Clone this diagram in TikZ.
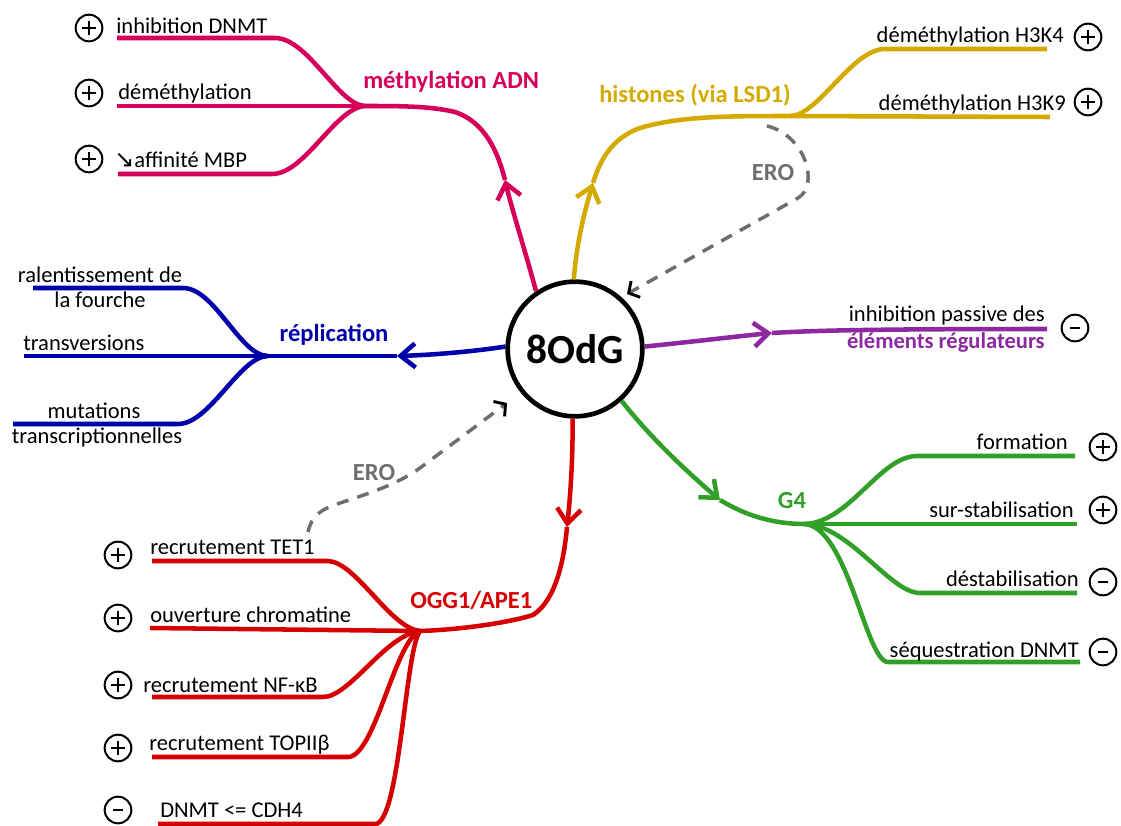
\documentclass[tikz,border=0pt]{standalone}
\usepackage{fontspec}
\setmainfont{Carlito}
\newfontfamily\djv{DejaVu Sans}
\usetikzlibrary{arrows.meta}
\definecolor{meth}{RGB}{214,0,90}
\definecolor{hist}{RGB}{212,170,0}
\definecolor{repl}{RGB}{0,0,170}
\definecolor{purp}{RGB}{140,40,160}
\definecolor{grn}{RGB}{50,160,40}
\definecolor{rred}{RGB}{215,0,0}
\definecolor{erog}{RGB}{110,110,110}
\tikzset{
  branch/.style={line width=3.4pt},
  arr/.style={-{Straight Barb[length=11pt,width=18pt]}},
  txt/.style={inner sep=0pt,font=\fontsize{16.9}{20}\selectfont},
  lbl/.style={inner sep=0pt,font=\fontsize{18.4}{22}\selectfont\bfseries},
  hub/.style={circle,draw=black,line width=3.5pt,minimum size=101pt,inner sep=0pt,font=\fontsize{31}{31}\selectfont\bfseries},
  erol/.style={draw=erog,line width=2.6pt,dash pattern=on 9pt off 7pt,-{Straight Barb[length=6pt,width=14pt,black,line width=2.2pt]}},
  pmc/.style={circle,draw=black,line width=1.5pt,minimum size=20pt,inner sep=0pt},
  pplus/.style={pmc,path picture={
    \draw[line width=1.6pt] ([xshift=-5.5pt]path picture bounding box.center) -- ([xshift=5.5pt]path picture bounding box.center);
    \draw[line width=1.6pt] ([yshift=-5.5pt]path picture bounding box.center) -- ([yshift=5.5pt]path picture bounding box.center);}},
  pminus/.style={pmc,path picture={
    \draw[line width=2pt] ([xshift=-3.5pt]path picture bounding box.center) -- ([xshift=3.5pt]path picture bounding box.center);}}
}
\begin{document}
\begin{tikzpicture}[x=0.75pt,y=-0.75pt]
\useasboundingbox[fill=white] (0,0) rectangle (1121,825);

\node[hub] (c) at (575,349) {8OdG};

% ---------------- methylation ADN
\coordinate (mA) at (505,180);
\coordinate (mJ) at (365,106);
\coordinate (m1) at (117,38);
\coordinate (m2) at (117,106);
\coordinate (m3) at (118,174);
\draw[branch,meth,arr] (c.124) .. controls (525,250) and (512,210) .. (mA);
\draw[branch,meth] (mA) .. controls (498,152) and (485,122) .. (455,112) .. controls (430,106) and (400,106) .. (mJ);
\draw[branch,meth] (m1) -- (275,38) .. controls (308,38) and (338,105) .. (mJ);
\draw[branch,meth] (m2) -- (mJ);
\draw[branch,meth] (m3) -- (272,174) .. controls (305,174) and (335,108) .. (mJ);
\node[lbl,text=meth,anchor=base west] (lm) at (363,88) {méthylation ADN};
\node[txt,anchor=base west] (tm1) at (116,33) {inhibition DNMT};
\node[txt,anchor=base west] (tm2) at (118,99) {déméthylation};
\node[txt,anchor=base west] (tm3) at (114,167) {{\djv\fontsize{18}{18}\selectfont ↘}affinité MBP};
\node[pplus] (sm1) at (89,28) {};
\node[pplus] (sm2) at (89,93) {};
\node[pplus] (sm3) at (89,159) {};

% ---------------- histones
\coordinate (hA) at (593,183);
\coordinate (hJ) at (790,116);
\coordinate (h1) at (1047,49);
\coordinate (h2) at (1050,117);
\draw[branch,hist,arr] (c.91) .. controls (577,240) and (585,210) .. (hA);
\draw[branch,hist] (hA) .. controls (600,160) and (612,138) .. (640,128) .. controls (680,116) and (730,116) .. (hJ);
\draw[branch,hist] (hJ) .. controls (818,116) and (852,49) .. (885,49) -- (h1);
\draw[branch,hist] (hJ) -- (h2);
\node[lbl,text=hist,anchor=base west] (lh) at (599,102) {histones (via LSD1)};
\node[txt,anchor=base east] (th1) at (1064,42) {déméthylation H3K4};
\node[txt,anchor=base east] (th2) at (1066,110) {déméthylation H3K9};
\node[pplus] (sh1) at (1088,37) {};
\node[pplus] (sh2) at (1088,102) {};

% ERO (top)
\coordinate (e1s) at (767,126);
\coordinate (e1t) at (627,294);
\draw[erol] (e1s) .. controls (805,135) and (820,185) .. (798,198) -- (e1t);
\node[lbl,text=erog,anchor=base] (le1) at (773,180) {ERO};

% ---------------- purple
\coordinate (pA) at (772,333);
\coordinate (pE) at (1047,329);
\draw[branch,purp,arr] (c.2) .. controls (690,342) and (740,336) .. (pA);
\draw[branch,purp] (pA) .. controls (820,330) and (900,329) .. (pE);
\node[txt,anchor=base east] (tp1) at (1045,321) {inhibition passive des};
\node[txt,anchor=base east,text=purp,font=\fontsize{16.9}{20}\selectfont\bfseries] (tp2) at (1045,348) {éléments régulateurs};
\node[pminus] (sp) at (1075,328) {};

% ---------------- G4
\coordinate (gA) at (720,500);
\coordinate (gJ) at (805,524);
\coordinate (g1) at (1075,456);
\coordinate (g2) at (1077,524);
\coordinate (g3) at (1077,593);
\coordinate (g4) at (1080,662);
\draw[branch,grn,arr] (c.-48) .. controls (652,440) and (693,477) .. (gA);
\draw[branch,grn] (gA) .. controls (745,515) and (772,524) .. (gJ);
\draw[branch,grn] (gJ) .. controls (850,522) and (880,456) .. (917,456) -- (g1);
\draw[branch,grn] (gJ) -- (g2);
\draw[branch,grn] (gJ) .. controls (850,526) and (890,593) .. (920,593) -- (g3);
\draw[branch,grn] (gJ) .. controls (848,528) and (866,662) .. (888,662) -- (g4);
\node[lbl,text=grn,anchor=base] (lg) at (792,508) {G4};
\node[txt,anchor=base east] (tg1) at (1068,449) {formation};
\node[txt,anchor=base east] (tg2) at (1074,517) {sur-stabilisation};
\node[txt,anchor=base east] (tg3) at (1079,586) {déstabilisation};
\node[txt,anchor=base east] (tg4) at (1079,657) {séquestration DNMT};
\node[pplus] (sg1) at (1103,447) {};
\node[pplus] (sg2) at (1103,510) {};
\node[pminus] (sg3) at (1103,582) {};
\node[pminus] (sg4) at (1103,652) {};

% ---------------- OGG1/APE1
\coordinate (rA) at (567,527);
\coordinate (rJ) at (420,631);
\coordinate (r1) at (152,561);
\coordinate (r2) at (150,628);
\coordinate (r3) at (152,697);
\coordinate (r4) at (152,757);
\coordinate (r5) at (158,824);
\draw[branch,rred,arr] (c.-92) .. controls (573,460) and (570,500) .. (rA);
\draw[branch,rred] (rA) .. controls (564,560) and (556,600) .. (533,615) .. controls (500,625) and (450,630) .. (rJ);
\draw[branch,rred] (r1) -- (328,561) .. controls (356,562) and (390,628) .. (rJ);
\draw[branch,rred] (r2) -- (rJ);
\draw[branch,rred] (r3) -- (323,697) .. controls (350,697) and (385,635) .. (rJ);
\draw[branch,rred] (r4) -- (348,757) .. controls (375,757) and (395,640) .. (rJ);
\draw[branch,rred] (r5) -- (375,824) .. controls (400,824) and (405,650) .. (rJ);
\node[lbl,text=rred,anchor=base west] (lr) at (410,608) {OGG1/APE1};
\node[txt,anchor=base west] (tr1) at (150,554) {recrutement TET1};
\node[txt,anchor=base west] (tr2) at (150,622) {ouverture chromatine};
\node[txt,anchor=base west] (tr3) at (143,692) {recrutement NF-κB};
\node[txt,anchor=base west] (tr4) at (149,750) {recrutement TOPIIβ};
\node[txt,anchor=base west] (tr5) at (160,817) {DNMT <= CDH4};
\node[pplus] (sr1) at (118,555) {};
\node[pplus] (sr2) at (118,618) {};
\node[pplus] (sr3) at (118,685) {};
\node[pplus] (sr4) at (118,748) {};
\node[pminus] (sr5) at (118,810) {};

% ERO (bottom)
\coordinate (e2s) at (308,532);
\coordinate (e2t) at (507,403);
\draw[erol] (e2s) .. controls (312,515) and (320,510) .. (340,503) .. controls (380,490) and (400,482) .. (420,468) -- (e2t);
\node[lbl,text=erog,anchor=base] (le2) at (374,480) {ERO};

% ---------------- réplication
\coordinate (bA) at (397,356);
\coordinate (bJ) at (268,356);
\coordinate (b1) at (33,288);
\coordinate (b2) at (24,356);
\coordinate (b3) at (13,424);
\draw[branch,repl,arr] (c.178) .. controls (470,352) and (430,355) .. (bA);
\draw[branch,repl] (bA) -- (bJ);
\draw[branch,repl] (b1) -- (183,288) .. controls (215,288) and (240,356) .. (bJ);
\draw[branch,repl] (b2) -- (bJ);
\draw[branch,repl] (b3) -- (178,424) .. controls (210,424) and (240,356) .. (bJ);
\node[lbl,text=repl,anchor=base] (lb) at (334,341) {réplication};
\node[txt,anchor=base] (tb1a) at (100,282) {ralentissement de};
\node[txt,anchor=base] (tb1b) at (100,307) {la fourche};
\node[txt,anchor=base west] (tb2) at (23,350) {transversions};
\node[txt,anchor=base] (tb3a) at (94,418) {mutations};
\node[txt,anchor=base] (tb3b) at (97,443) {transcriptionnelles};
\end{tikzpicture}
\end{document}
